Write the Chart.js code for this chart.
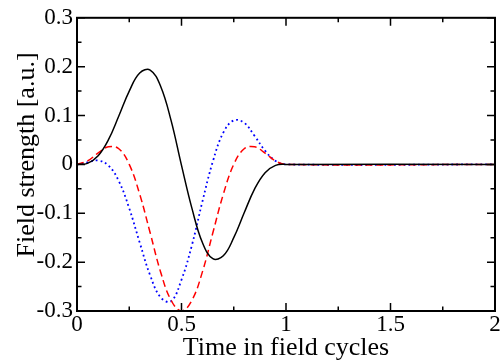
<!DOCTYPE html>
<html>
<head>
<meta charset="utf-8">
<script src="https://cdn.jsdelivr.net/npm/chart.js@4"></script>
<style>
    html, body { margin: 0; padding: 0; background: #fff; }
    #box { width: 503px; height: 360px; }
</style>
</head>
<body>
<div id="box"><canvas id="chartField" width="503" height="360"></canvas></div>
<script>
// time in field cycles
const timeValues = [0, 0.05, 0.1, 0.15, 0.2, 0.25, 0.3, 0.35, 0.4, 0.45, 0.5,
    0.55, 0.6, 0.65, 0.7, 0.75, 0.8, 0.85, 0.9, 0.95, 1, 2];
// field strength
const blackValues = [0, 0.002, 0.017, 0.050, 0.099, 0.150, 0.187, 0.193, 0.160, 0.090, -0.002,
    -0.090, -0.160, -0.193, -0.187, -0.150, -0.099, -0.050, -0.017, -0.002, 0, 0];
const redValues = [0, 0.007, 0.023, 0.036, 0.032, 0, -0.061, -0.140, -0.220, -0.278, -0.300,
    -0.278, -0.220, -0.140, -0.061, 0, 0.032, 0.036, 0.023, 0.007, 0, 0];
const blueValues = [0, 0.004, 0.008, -0.002, -0.034, -0.090, -0.160, -0.227, -0.272, -0.280, -0.236,
    -0.165, -0.076, 0.006, 0.065, 0.090, 0.085, 0.058, 0.028, 0.007, 0, 0];
const xTicks = [0, 0.5, 1, 1.5, 2];
const yTicks = [-0.3, -0.2, -0.1, 0, 0.1, 0.2, 0.3];
const xTitle = "Time in field cycles";
const yTitle = "Field strength [a.u.]";

const serif = "'Liberation Serif', 'Times New Roman', serif";

function toPoints(values) {
    return timeValues.map((t, i) => ({ x: t, y: values[i] }));
}

function fmt(v) {
    let r = Math.round(v * 100) / 100;
    if (Math.abs(r) < 1e-9) return "0";
    return String(r);
}

// frame, inward ticks on all four sides, axis titles
const framePlugin = {
    id: 'frame',
    afterDatasetsDraw(chart) {
        const { ctx, chartArea: { left, top, right, bottom } } = chart;
        const xs = chart.scales.x;
        const ys = chart.scales.y;
        ctx.save();
        ctx.strokeStyle = '#000';
        ctx.lineWidth = 2;
        ctx.strokeRect(left, top, right - left, bottom - top);

        ctx.lineWidth = 1.5;
        ctx.beginPath();
        for (let v = 0; v <= 2.0001; v += 0.25) {
            const major = Math.abs(v / 0.5 - Math.round(v / 0.5)) < 1e-6;
            const len = major ? 8 : 4.5;
            const px = xs.getPixelForValue(v);
            ctx.moveTo(px, bottom); ctx.lineTo(px, bottom - len);
            ctx.moveTo(px, top); ctx.lineTo(px, top + len);
        }
        for (let i = -6; i <= 6; i++) {
            const v = i * 0.05;
            const major = i % 2 === 0;
            const len = major ? 8 : 4.5;
            const py = ys.getPixelForValue(v);
            ctx.moveTo(left, py); ctx.lineTo(left + len, py);
            ctx.moveTo(right, py); ctx.lineTo(right - len, py);
        }
        ctx.stroke();

        ctx.fillStyle = '#000';
        ctx.font = "26px " + serif;
        ctx.textAlign = 'center';
        ctx.textBaseline = 'alphabetic';
        ctx.fillText(xTitle, (left + right) / 2, 355);

        ctx.translate(34, 155);
        ctx.rotate(-Math.PI / 2);
        ctx.fillText(yTitle, 0, 0);
        ctx.restore();
    }
};

const ctxField = document.getElementById('chartField').getContext('2d');

const lineBase = { pointRadius: 0, fill: false, tension: 0.4, borderCapStyle: 'butt' };

let fieldChart = new Chart(ctxField, {
    type: 'line',
    data: {
        datasets: [
            Object.assign({
                label: 'black',
                data: toPoints(blackValues),
                borderColor: '#000000',
                borderWidth: 1.5
            }, lineBase),
            Object.assign({
                label: 'red',
                data: toPoints(redValues),
                borderColor: '#ff0000',
                borderWidth: 1.5,
                borderDash: [7, 4]
            }, lineBase),
            Object.assign({
                label: 'blue',
                data: toPoints(blueValues),
                borderColor: '#0000ff',
                borderWidth: 1.8,
                borderDash: [1.8, 3]
            }, lineBase)
        ]
    },
    plugins: [framePlugin],
    options: {
        responsive: false,
        animation: false,
        layout: { padding: { top: 17, right: 8, left: 0, bottom: 0 } },
        plugins: { legend: { display: false }, tooltip: { enabled: false } },
        scales: {
            x: {
                type: 'linear',
                min: 0,
                max: 2,
                afterFit(scale) { scale.height = 49; },
                afterBuildTicks(scale) { scale.ticks = xTicks.map(v => ({ value: v })); },
                grid: { display: false, drawTicks: false },
                border: { display: false },
                ticks: {
                    color: '#000',
                    font: { family: serif, size: 23 },
                    padding: 0,
                    maxRotation: 0,
                    autoSkip: false,
                    callback: (v) => fmt(v)
                }
            },
            y: {
                type: 'linear',
                min: -0.3,
                max: 0.3,
                afterFit(scale) { scale.width = 77; },
                afterBuildTicks(scale) { scale.ticks = yTicks.map(v => ({ value: v })); },
                grid: { display: false, drawTicks: false },
                border: { display: false },
                ticks: {
                    color: '#000',
                    font: { family: serif, size: 23 },
                    padding: 4,
                    autoSkip: false,
                    callback: (v) => fmt(v)
                }
            }
        }
    }
});
</script>
</body>
</html>
